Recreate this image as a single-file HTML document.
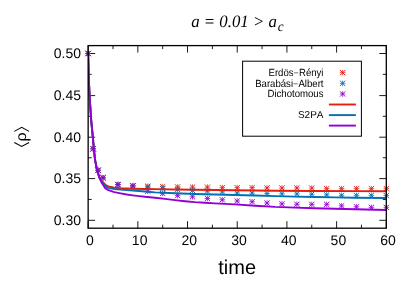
<!DOCTYPE html>
<html><head><meta charset="utf-8"><title>chart</title>
<style>html,body{margin:0;padding:0;background:#fff}svg{display:block;will-change:transform}text{font-family:"Liberation Sans",sans-serif;fill:#000;text-rendering:geometricPrecision;font-kerning:none}.s{font-family:"Liberation Serif",serif;font-style:italic}</style></head><body>
<svg width="407" height="285" viewBox="0 0 407 285">
<rect width="407" height="285" fill="#fff"/>
<defs><clipPath id="cp"><rect x="88.15" y="45.6" width="298.15" height="182.6"/></clipPath></defs>
<path d="M88.15 228.2v-7.0M88.15 45.6v7.0M113.00 228.2v-3.5M113.00 45.6v3.5M137.84 228.2v-7.0M137.84 45.6v7.0M162.69 228.2v-3.5M162.69 45.6v3.5M187.53 228.2v-7.0M187.53 45.6v7.0M212.38 228.2v-3.5M212.38 45.6v3.5M237.22 228.2v-7.0M237.22 45.6v7.0M262.07 228.2v-3.5M262.07 45.6v3.5M286.92 228.2v-7.0M286.92 45.6v7.0M311.76 228.2v-3.5M311.76 45.6v3.5M336.61 228.2v-7.0M336.61 45.6v7.0M361.45 228.2v-3.5M361.45 45.6v3.5M386.30 228.2v-7.0M386.30 45.6v7.0M88.15 220.30h7.0M386.3 220.30h-7.0M88.15 199.45h3.5M386.3 199.45h-3.5M88.15 178.60h7.0M386.3 178.60h-7.0M88.15 157.75h3.5M386.3 157.75h-3.5M88.15 137.20h7.0M386.3 137.20h-7.0M88.15 116.30h3.5M386.3 116.30h-3.5M88.15 95.60h7.0M386.3 95.60h-7.0M88.15 74.35h3.5M386.3 74.35h-3.5M88.15 53.50h7.0M386.3 53.50h-7.0" stroke="#000" stroke-width="0.9" fill="none"/>
<text x="89.95" y="244.7" font-size="14" text-anchor="middle">0</text>
<text x="139.64" y="244.7" font-size="14" text-anchor="middle">10</text>
<text x="189.33" y="244.7" font-size="14" text-anchor="middle">20</text>
<text x="239.03" y="244.7" font-size="14" text-anchor="middle">30</text>
<text x="288.72" y="244.7" font-size="14" text-anchor="middle">40</text>
<text x="338.41" y="244.7" font-size="14" text-anchor="middle">50</text>
<text x="388.10" y="244.7" font-size="14" text-anchor="middle">60</text>
<text x="81.0" y="225.05" font-size="14" text-anchor="end">0.30</text>
<text x="81.0" y="183.35" font-size="14" text-anchor="end">0.35</text>
<text x="81.0" y="141.65" font-size="14" text-anchor="end">0.40</text>
<text x="81.0" y="99.95" font-size="14" text-anchor="end">0.45</text>
<text x="81.0" y="58.25" font-size="14" text-anchor="end">0.50</text>
<rect x="242.6" y="61.2" width="118.8" height="75" fill="#fff" stroke="#000" stroke-width="1"/>
<text transform="translate(323.5,75.90) scale(0.924,1)" font-size="10.4" text-anchor="end">Erdös<tspan font-size="8.3" dx="0.6" dy="-0.45">–</tspan><tspan dx="0.6" dy="0.45">Rényi</tspan></text>
<text transform="translate(323.5,86.60) scale(0.924,1)" font-size="10.4" text-anchor="end">Barabási<tspan font-size="8.3" dx="0.6" dy="-0.45">–</tspan><tspan dx="0.6" dy="0.45">Albert</tspan></text>
<text transform="translate(323.5,97.40) scale(0.924,1)" font-size="10.4" text-anchor="end">Dichotomous</text>
<text x="323.5" y="118.40" font-size="10" text-anchor="end">S2PA</text>
<path d="M85.35 53.50H90.95M88.15 50.70V56.30" stroke="#e51e10" stroke-width="0.75" fill="none"/><path d="M85.80 51.15L90.50 55.85M85.80 55.85L90.50 51.15" stroke="#e51e10" stroke-width="0.95" stroke-linecap="round" fill="none"/>
<path d="M90.32 148.80H95.92M93.12 146.00V151.60" stroke="#e51e10" stroke-width="0.75" fill="none"/><path d="M90.77 146.45L95.47 151.15M90.77 151.15L95.47 146.45" stroke="#e51e10" stroke-width="0.95" stroke-linecap="round" fill="none"/>
<path d="M95.29 170.30H100.89M98.09 167.50V173.10" stroke="#e51e10" stroke-width="0.75" fill="none"/><path d="M95.74 167.95L100.44 172.65M95.74 172.65L100.44 167.95" stroke="#e51e10" stroke-width="0.95" stroke-linecap="round" fill="none"/>
<path d="M100.26 177.70H105.86M103.06 174.90V180.50" stroke="#e51e10" stroke-width="0.75" fill="none"/><path d="M100.71 175.35L105.41 180.05M100.71 180.05L105.41 175.35" stroke="#e51e10" stroke-width="0.95" stroke-linecap="round" fill="none"/>
<path d="M115.17 184.50H120.77M117.97 181.70V187.30" stroke="#e51e10" stroke-width="0.75" fill="none"/><path d="M115.62 182.15L120.31 186.85M115.62 186.85L120.31 182.15" stroke="#e51e10" stroke-width="0.95" stroke-linecap="round" fill="none"/>
<path d="M130.07 185.60H135.67M132.87 182.80V188.40" stroke="#e51e10" stroke-width="0.75" fill="none"/><path d="M130.52 183.25L135.22 187.95M130.52 187.95L135.22 183.25" stroke="#e51e10" stroke-width="0.95" stroke-linecap="round" fill="none"/>
<path d="M144.98 186.20H150.58M147.78 183.40V189.00" stroke="#e51e10" stroke-width="0.75" fill="none"/><path d="M145.43 183.85L150.13 188.55M145.43 188.55L150.13 183.85" stroke="#e51e10" stroke-width="0.95" stroke-linecap="round" fill="none"/>
<path d="M159.89 186.70H165.49M162.69 183.90V189.50" stroke="#e51e10" stroke-width="0.75" fill="none"/><path d="M160.34 184.35L165.04 189.05M160.34 189.05L165.04 184.35" stroke="#e51e10" stroke-width="0.95" stroke-linecap="round" fill="none"/>
<path d="M174.79 186.90H180.40M177.59 184.10V189.70" stroke="#e51e10" stroke-width="0.75" fill="none"/><path d="M175.25 184.55L179.94 189.25M175.25 189.25L179.94 184.55" stroke="#e51e10" stroke-width="0.95" stroke-linecap="round" fill="none"/>
<path d="M189.70 187.10H195.30M192.50 184.30V189.90" stroke="#e51e10" stroke-width="0.75" fill="none"/><path d="M190.15 184.75L194.85 189.45M190.15 189.45L194.85 184.75" stroke="#e51e10" stroke-width="0.95" stroke-linecap="round" fill="none"/>
<path d="M204.61 187.10H210.21M207.41 184.30V189.90" stroke="#e51e10" stroke-width="0.75" fill="none"/><path d="M205.06 184.75L209.76 189.45M205.06 189.45L209.76 184.75" stroke="#e51e10" stroke-width="0.95" stroke-linecap="round" fill="none"/>
<path d="M219.52 187.60H225.12M222.32 184.80V190.40" stroke="#e51e10" stroke-width="0.75" fill="none"/><path d="M219.97 185.25L224.67 189.95M219.97 189.95L224.67 185.25" stroke="#e51e10" stroke-width="0.95" stroke-linecap="round" fill="none"/>
<path d="M234.42 187.70H240.03M237.22 184.90V190.50" stroke="#e51e10" stroke-width="0.75" fill="none"/><path d="M234.88 185.35L239.57 190.05M234.88 190.05L239.57 185.35" stroke="#e51e10" stroke-width="0.95" stroke-linecap="round" fill="none"/>
<path d="M249.33 187.70H254.93M252.13 184.90V190.50" stroke="#e51e10" stroke-width="0.75" fill="none"/><path d="M249.78 185.35L254.48 190.05M249.78 190.05L254.48 185.35" stroke="#e51e10" stroke-width="0.95" stroke-linecap="round" fill="none"/>
<path d="M264.24 187.90H269.84M267.04 185.10V190.70" stroke="#e51e10" stroke-width="0.75" fill="none"/><path d="M264.69 185.55L269.39 190.25M264.69 190.25L269.39 185.55" stroke="#e51e10" stroke-width="0.95" stroke-linecap="round" fill="none"/>
<path d="M279.15 187.95H284.75M281.95 185.15V190.75" stroke="#e51e10" stroke-width="0.75" fill="none"/><path d="M279.60 185.60L284.30 190.30M279.60 190.30L284.30 185.60" stroke="#e51e10" stroke-width="0.95" stroke-linecap="round" fill="none"/>
<path d="M294.06 187.95H299.66M296.86 185.15V190.75" stroke="#e51e10" stroke-width="0.75" fill="none"/><path d="M294.50 185.60L299.21 190.30M294.50 190.30L299.21 185.60" stroke="#e51e10" stroke-width="0.95" stroke-linecap="round" fill="none"/>
<path d="M308.96 188.05H314.56M311.76 185.25V190.85" stroke="#e51e10" stroke-width="0.75" fill="none"/><path d="M309.41 185.70L314.11 190.40M309.41 190.40L314.11 185.70" stroke="#e51e10" stroke-width="0.95" stroke-linecap="round" fill="none"/>
<path d="M323.87 188.65H329.47M326.67 185.85V191.45" stroke="#e51e10" stroke-width="0.75" fill="none"/><path d="M324.32 186.30L329.02 191.00M324.32 191.00L329.02 186.30" stroke="#e51e10" stroke-width="0.95" stroke-linecap="round" fill="none"/>
<path d="M338.78 188.65H344.38M341.58 185.85V191.45" stroke="#e51e10" stroke-width="0.75" fill="none"/><path d="M339.23 186.30L343.93 191.00M339.23 191.00L343.93 186.30" stroke="#e51e10" stroke-width="0.95" stroke-linecap="round" fill="none"/>
<path d="M353.69 188.65H359.29M356.49 185.85V191.45" stroke="#e51e10" stroke-width="0.75" fill="none"/><path d="M354.13 186.30L358.84 191.00M354.13 191.00L358.84 186.30" stroke="#e51e10" stroke-width="0.95" stroke-linecap="round" fill="none"/>
<path d="M368.59 188.65H374.19M371.39 185.85V191.45" stroke="#e51e10" stroke-width="0.75" fill="none"/><path d="M369.04 186.30L373.74 191.00M369.04 191.00L373.74 186.30" stroke="#e51e10" stroke-width="0.95" stroke-linecap="round" fill="none"/>
<path d="M383.50 188.65H389.10M386.30 185.85V191.45" stroke="#e51e10" stroke-width="0.75" fill="none"/><path d="M383.95 186.30L388.65 191.00M383.95 191.00L388.65 186.30" stroke="#e51e10" stroke-width="0.95" stroke-linecap="round" fill="none"/>
<path d="M85.35 53.50H90.95M88.15 50.70V56.30" stroke="#0072b2" stroke-width="0.75" fill="none"/><path d="M85.80 51.15L90.50 55.85M85.80 55.85L90.50 51.15" stroke="#0072b2" stroke-width="0.95" stroke-linecap="round" fill="none"/>
<path d="M90.32 148.80H95.92M93.12 146.00V151.60" stroke="#0072b2" stroke-width="0.75" fill="none"/><path d="M90.77 146.45L95.47 151.15M90.77 151.15L95.47 146.45" stroke="#0072b2" stroke-width="0.95" stroke-linecap="round" fill="none"/>
<path d="M95.29 170.30H100.89M98.09 167.50V173.10" stroke="#0072b2" stroke-width="0.75" fill="none"/><path d="M95.74 167.95L100.44 172.65M95.74 172.65L100.44 167.95" stroke="#0072b2" stroke-width="0.95" stroke-linecap="round" fill="none"/>
<path d="M100.26 177.80H105.86M103.06 175.00V180.60" stroke="#0072b2" stroke-width="0.75" fill="none"/><path d="M100.71 175.45L105.41 180.15M100.71 180.15L105.41 175.45" stroke="#0072b2" stroke-width="0.95" stroke-linecap="round" fill="none"/>
<path d="M115.17 184.60H120.77M117.97 181.80V187.40" stroke="#0072b2" stroke-width="0.75" fill="none"/><path d="M115.62 182.25L120.31 186.95M115.62 186.95L120.31 182.25" stroke="#0072b2" stroke-width="0.95" stroke-linecap="round" fill="none"/>
<path d="M130.07 185.90H135.67M132.87 183.10V188.70" stroke="#0072b2" stroke-width="0.75" fill="none"/><path d="M130.52 183.55L135.22 188.25M130.52 188.25L135.22 183.55" stroke="#0072b2" stroke-width="0.95" stroke-linecap="round" fill="none"/>
<path d="M144.98 187.20H150.58M147.78 184.40V190.00" stroke="#0072b2" stroke-width="0.75" fill="none"/><path d="M145.43 184.85L150.13 189.55M145.43 189.55L150.13 184.85" stroke="#0072b2" stroke-width="0.95" stroke-linecap="round" fill="none"/>
<path d="M159.89 188.60H165.49M162.69 185.80V191.40" stroke="#0072b2" stroke-width="0.75" fill="none"/><path d="M160.34 186.25L165.04 190.95M160.34 190.95L165.04 186.25" stroke="#0072b2" stroke-width="0.95" stroke-linecap="round" fill="none"/>
<path d="M174.79 189.60H180.40M177.59 186.80V192.40" stroke="#0072b2" stroke-width="0.75" fill="none"/><path d="M175.25 187.25L179.94 191.95M175.25 191.95L179.94 187.25" stroke="#0072b2" stroke-width="0.95" stroke-linecap="round" fill="none"/>
<path d="M189.70 190.50H195.30M192.50 187.70V193.30" stroke="#0072b2" stroke-width="0.75" fill="none"/><path d="M190.15 188.15L194.85 192.85M190.15 192.85L194.85 188.15" stroke="#0072b2" stroke-width="0.95" stroke-linecap="round" fill="none"/>
<path d="M204.61 191.10H210.21M207.41 188.30V193.90" stroke="#0072b2" stroke-width="0.75" fill="none"/><path d="M205.06 188.75L209.76 193.45M205.06 193.45L209.76 188.75" stroke="#0072b2" stroke-width="0.95" stroke-linecap="round" fill="none"/>
<path d="M219.52 191.90H225.12M222.32 189.10V194.70" stroke="#0072b2" stroke-width="0.75" fill="none"/><path d="M219.97 189.55L224.67 194.25M219.97 194.25L224.67 189.55" stroke="#0072b2" stroke-width="0.95" stroke-linecap="round" fill="none"/>
<path d="M234.42 193.00H240.03M237.22 190.20V195.80" stroke="#0072b2" stroke-width="0.75" fill="none"/><path d="M234.88 190.65L239.57 195.35M234.88 195.35L239.57 190.65" stroke="#0072b2" stroke-width="0.95" stroke-linecap="round" fill="none"/>
<path d="M249.33 193.10H254.93M252.13 190.30V195.90" stroke="#0072b2" stroke-width="0.75" fill="none"/><path d="M249.78 190.75L254.48 195.45M249.78 195.45L254.48 190.75" stroke="#0072b2" stroke-width="0.95" stroke-linecap="round" fill="none"/>
<path d="M264.24 193.60H269.84M267.04 190.80V196.40" stroke="#0072b2" stroke-width="0.75" fill="none"/><path d="M264.69 191.25L269.39 195.95M264.69 195.95L269.39 191.25" stroke="#0072b2" stroke-width="0.95" stroke-linecap="round" fill="none"/>
<path d="M279.15 193.75H284.75M281.95 190.95V196.55" stroke="#0072b2" stroke-width="0.75" fill="none"/><path d="M279.60 191.40L284.30 196.10M279.60 196.10L284.30 191.40" stroke="#0072b2" stroke-width="0.95" stroke-linecap="round" fill="none"/>
<path d="M294.06 193.95H299.66M296.86 191.15V196.75" stroke="#0072b2" stroke-width="0.75" fill="none"/><path d="M294.50 191.60L299.21 196.30M294.50 196.30L299.21 191.60" stroke="#0072b2" stroke-width="0.95" stroke-linecap="round" fill="none"/>
<path d="M308.96 194.25H314.56M311.76 191.45V197.05" stroke="#0072b2" stroke-width="0.75" fill="none"/><path d="M309.41 191.90L314.11 196.60M309.41 196.60L314.11 191.90" stroke="#0072b2" stroke-width="0.95" stroke-linecap="round" fill="none"/>
<path d="M323.87 194.85H329.47M326.67 192.05V197.65" stroke="#0072b2" stroke-width="0.75" fill="none"/><path d="M324.32 192.50L329.02 197.20M324.32 197.20L329.02 192.50" stroke="#0072b2" stroke-width="0.95" stroke-linecap="round" fill="none"/>
<path d="M338.78 195.35H344.38M341.58 192.55V198.15" stroke="#0072b2" stroke-width="0.75" fill="none"/><path d="M339.23 193.00L343.93 197.70M339.23 197.70L343.93 193.00" stroke="#0072b2" stroke-width="0.95" stroke-linecap="round" fill="none"/>
<path d="M353.69 195.35H359.29M356.49 192.55V198.15" stroke="#0072b2" stroke-width="0.75" fill="none"/><path d="M354.13 193.00L358.84 197.70M354.13 197.70L358.84 193.00" stroke="#0072b2" stroke-width="0.95" stroke-linecap="round" fill="none"/>
<path d="M368.59 195.35H374.19M371.39 192.55V198.15" stroke="#0072b2" stroke-width="0.75" fill="none"/><path d="M369.04 193.00L373.74 197.70M369.04 197.70L373.74 193.00" stroke="#0072b2" stroke-width="0.95" stroke-linecap="round" fill="none"/>
<path d="M383.50 195.55H389.10M386.30 192.75V198.35" stroke="#0072b2" stroke-width="0.75" fill="none"/><path d="M383.95 193.20L388.65 197.90M383.95 197.90L388.65 193.20" stroke="#0072b2" stroke-width="0.95" stroke-linecap="round" fill="none"/>
<path d="M85.35 53.50H90.95M88.15 50.70V56.30" stroke="#9400d3" stroke-width="0.75" fill="none"/><path d="M85.80 51.15L90.50 55.85M85.80 55.85L90.50 51.15" stroke="#9400d3" stroke-width="0.95" stroke-linecap="round" fill="none"/>
<path d="M90.32 148.80H95.92M93.12 146.00V151.60" stroke="#9400d3" stroke-width="0.75" fill="none"/><path d="M90.77 146.45L95.47 151.15M90.77 151.15L95.47 146.45" stroke="#9400d3" stroke-width="0.95" stroke-linecap="round" fill="none"/>
<path d="M95.29 170.30H100.89M98.09 167.50V173.10" stroke="#9400d3" stroke-width="0.75" fill="none"/><path d="M95.74 167.95L100.44 172.65M95.74 172.65L100.44 167.95" stroke="#9400d3" stroke-width="0.95" stroke-linecap="round" fill="none"/>
<path d="M100.26 177.80H105.86M103.06 175.00V180.60" stroke="#9400d3" stroke-width="0.75" fill="none"/><path d="M100.71 175.45L105.41 180.15M100.71 180.15L105.41 175.45" stroke="#9400d3" stroke-width="0.95" stroke-linecap="round" fill="none"/>
<path d="M115.17 184.65H120.77M117.97 181.85V187.45" stroke="#9400d3" stroke-width="0.75" fill="none"/><path d="M115.62 182.30L120.31 187.00M115.62 187.00L120.31 182.30" stroke="#9400d3" stroke-width="0.95" stroke-linecap="round" fill="none"/>
<path d="M130.07 186.10H135.67M132.87 183.30V188.90" stroke="#9400d3" stroke-width="0.75" fill="none"/><path d="M130.52 183.75L135.22 188.45M130.52 188.45L135.22 183.75" stroke="#9400d3" stroke-width="0.95" stroke-linecap="round" fill="none"/>
<path d="M144.98 191.20H150.58M147.78 188.40V194.00" stroke="#9400d3" stroke-width="0.75" fill="none"/><path d="M145.43 188.85L150.13 193.55M145.43 193.55L150.13 188.85" stroke="#9400d3" stroke-width="0.95" stroke-linecap="round" fill="none"/>
<path d="M159.89 193.50H165.49M162.69 190.70V196.30" stroke="#9400d3" stroke-width="0.75" fill="none"/><path d="M160.34 191.15L165.04 195.85M160.34 195.85L165.04 191.15" stroke="#9400d3" stroke-width="0.95" stroke-linecap="round" fill="none"/>
<path d="M174.79 195.60H180.40M177.59 192.80V198.40" stroke="#9400d3" stroke-width="0.75" fill="none"/><path d="M175.25 193.25L179.94 197.95M175.25 197.95L179.94 193.25" stroke="#9400d3" stroke-width="0.95" stroke-linecap="round" fill="none"/>
<path d="M189.70 196.80H195.30M192.50 194.00V199.60" stroke="#9400d3" stroke-width="0.75" fill="none"/><path d="M190.15 194.45L194.85 199.15M190.15 199.15L194.85 194.45" stroke="#9400d3" stroke-width="0.95" stroke-linecap="round" fill="none"/>
<path d="M204.61 198.50H210.21M207.41 195.70V201.30" stroke="#9400d3" stroke-width="0.75" fill="none"/><path d="M205.06 196.15L209.76 200.85M205.06 200.85L209.76 196.15" stroke="#9400d3" stroke-width="0.95" stroke-linecap="round" fill="none"/>
<path d="M219.52 199.80H225.12M222.32 197.00V202.60" stroke="#9400d3" stroke-width="0.75" fill="none"/><path d="M219.97 197.45L224.67 202.15M219.97 202.15L224.67 197.45" stroke="#9400d3" stroke-width="0.95" stroke-linecap="round" fill="none"/>
<path d="M234.42 201.00H240.03M237.22 198.20V203.80" stroke="#9400d3" stroke-width="0.75" fill="none"/><path d="M234.88 198.65L239.57 203.35M234.88 203.35L239.57 198.65" stroke="#9400d3" stroke-width="0.95" stroke-linecap="round" fill="none"/>
<path d="M249.33 201.70H254.93M252.13 198.90V204.50" stroke="#9400d3" stroke-width="0.75" fill="none"/><path d="M249.78 199.35L254.48 204.05M249.78 204.05L254.48 199.35" stroke="#9400d3" stroke-width="0.95" stroke-linecap="round" fill="none"/>
<path d="M264.24 203.00H269.84M267.04 200.20V205.80" stroke="#9400d3" stroke-width="0.75" fill="none"/><path d="M264.69 200.65L269.39 205.35M264.69 205.35L269.39 200.65" stroke="#9400d3" stroke-width="0.95" stroke-linecap="round" fill="none"/>
<path d="M279.15 203.85H284.75M281.95 201.05V206.65" stroke="#9400d3" stroke-width="0.75" fill="none"/><path d="M279.60 201.50L284.30 206.20M279.60 206.20L284.30 201.50" stroke="#9400d3" stroke-width="0.95" stroke-linecap="round" fill="none"/>
<path d="M294.06 204.25H299.66M296.86 201.45V207.05" stroke="#9400d3" stroke-width="0.75" fill="none"/><path d="M294.50 201.90L299.21 206.60M294.50 206.60L299.21 201.90" stroke="#9400d3" stroke-width="0.95" stroke-linecap="round" fill="none"/>
<path d="M308.96 204.35H314.56M311.76 201.55V207.15" stroke="#9400d3" stroke-width="0.75" fill="none"/><path d="M309.41 202.00L314.11 206.70M309.41 206.70L314.11 202.00" stroke="#9400d3" stroke-width="0.95" stroke-linecap="round" fill="none"/>
<path d="M323.87 204.35H329.47M326.67 201.55V207.15" stroke="#9400d3" stroke-width="0.75" fill="none"/><path d="M324.32 202.00L329.02 206.70M324.32 206.70L329.02 202.00" stroke="#9400d3" stroke-width="0.95" stroke-linecap="round" fill="none"/>
<path d="M338.78 205.85H344.38M341.58 203.05V208.65" stroke="#9400d3" stroke-width="0.75" fill="none"/><path d="M339.23 203.50L343.93 208.20M339.23 208.20L343.93 203.50" stroke="#9400d3" stroke-width="0.95" stroke-linecap="round" fill="none"/>
<path d="M353.69 206.75H359.29M356.49 203.95V209.55" stroke="#9400d3" stroke-width="0.75" fill="none"/><path d="M354.13 204.40L358.84 209.10M354.13 209.10L358.84 204.40" stroke="#9400d3" stroke-width="0.95" stroke-linecap="round" fill="none"/>
<path d="M368.59 207.35H374.19M371.39 204.55V210.15" stroke="#9400d3" stroke-width="0.75" fill="none"/><path d="M369.04 205.00L373.74 209.70M369.04 209.70L373.74 205.00" stroke="#9400d3" stroke-width="0.95" stroke-linecap="round" fill="none"/>
<path d="M383.50 207.35H389.10M386.30 204.55V210.15" stroke="#9400d3" stroke-width="0.75" fill="none"/><path d="M383.95 205.00L388.65 209.70M383.95 209.70L388.65 205.00" stroke="#9400d3" stroke-width="0.95" stroke-linecap="round" fill="none"/>
<path d="M339.85 72.65H345.45M342.65 69.85V75.45" stroke="#e51e10" stroke-width="0.75" fill="none"/><path d="M340.30 70.30L345.00 75.00M340.30 75.00L345.00 70.30" stroke="#e51e10" stroke-width="0.95" stroke-linecap="round" fill="none"/>
<path d="M339.85 83.30H345.45M342.65 80.50V86.10" stroke="#0072b2" stroke-width="0.75" fill="none"/><path d="M340.30 80.95L345.00 85.65M340.30 85.65L345.00 80.95" stroke="#0072b2" stroke-width="0.95" stroke-linecap="round" fill="none"/>
<path d="M339.85 93.95H345.45M342.65 91.15V96.75" stroke="#9400d3" stroke-width="0.75" fill="none"/><path d="M340.30 91.60L345.00 96.30M340.30 96.30L345.00 91.60" stroke="#9400d3" stroke-width="0.95" stroke-linecap="round" fill="none"/>
<g clip-path="url(#cp)"><polyline points="88.15,53.50 88.85,80.30 89.85,100.30 91.20,120.30 92.90,137.80 94.00,150.30 95.10,160.10 96.30,166.30 97.50,171.50 99.40,176.90 101.80,180.90 103.40,182.70 105.80,185.20 108.30,186.40 114.40,187.70 120.60,188.30 132.90,188.70 145.10,189.00 155.00,189.15 175.00,189.50 195.00,189.80 235.00,190.25 275.00,190.80 315.00,191.00 355.00,191.10 386.60,191.20" fill="none" stroke="#e51e10" stroke-width="1.9" stroke-linejoin="round"/><polyline points="88.15,53.50 88.85,80.30 89.85,100.30 91.20,120.30 92.90,137.80 94.00,150.30 95.10,160.10 96.30,166.30 97.50,171.50 99.40,177.50 101.80,181.80 103.40,183.80 105.80,186.40 108.30,187.90 114.40,189.10 120.60,189.65 132.90,190.50 145.10,191.50 155.00,192.35 175.00,193.20 195.00,193.95 215.00,194.50 235.00,195.00 255.00,195.55 275.00,196.10 295.00,196.60 315.00,197.05 335.00,197.40 355.00,197.70 386.60,198.00" fill="none" stroke="#0072b2" stroke-width="1.9" stroke-linejoin="round"/><polyline points="88.15,53.50 88.85,80.30 89.85,100.30 91.20,120.30 92.90,137.80 94.00,150.30 95.10,160.10 96.30,166.30 97.50,171.80 99.40,177.90 101.80,182.90 103.70,185.80 105.20,188.30 108.30,190.10 114.40,192.10 120.60,193.35 126.70,194.45 132.90,195.35 139.00,196.10 145.10,196.80 155.00,197.70 165.00,198.90 175.00,200.10 185.00,201.20 195.00,202.15 205.00,202.80 215.00,203.40 225.00,203.90 235.00,204.40 255.00,205.70 275.00,206.90 295.00,207.65 315.00,208.25 335.00,208.80 355.00,209.30 386.60,210.00" fill="none" stroke="#9400d3" stroke-width="1.9" stroke-linejoin="round"/></g>
<path d="M328.9 104.5H355.9" stroke="#e51e10" stroke-width="1.9"/>
<path d="M328.9 115.1H355.9" stroke="#0072b2" stroke-width="1.9"/>
<path d="M328.9 125.6H355.9" stroke="#9400d3" stroke-width="1.9"/>
<rect x="88.15" y="45.6" width="298.15" height="182.6" fill="none" stroke="#000" stroke-width="1.3"/>
<text class="s" transform="translate(191.2,26.8) scale(0.966,1)" font-size="17.4">a = 0.01 &gt; a<tspan font-size="13.8" dx="0.8" dy="4.4">c</tspan></text>
<text x="237.2" y="274.45" font-size="20" text-anchor="middle">time</text>
<g transform="translate(21.7,136.95) rotate(-90)"><path d="M-5.6 -7.4L-9.55 0L-5.6 7.4M5.6 -7.4L9.55 0L5.6 7.4" stroke="#000" stroke-width="1.05" fill="none"/><path d="M-2.8 6.3V8.9" stroke="#000" stroke-width="1.4" fill="none"/><text transform="translate(0.1,4.4) scale(1.12,1)" x="0" y="0" font-size="14.4" text-anchor="middle">ρ</text></g>
</svg></body></html>
